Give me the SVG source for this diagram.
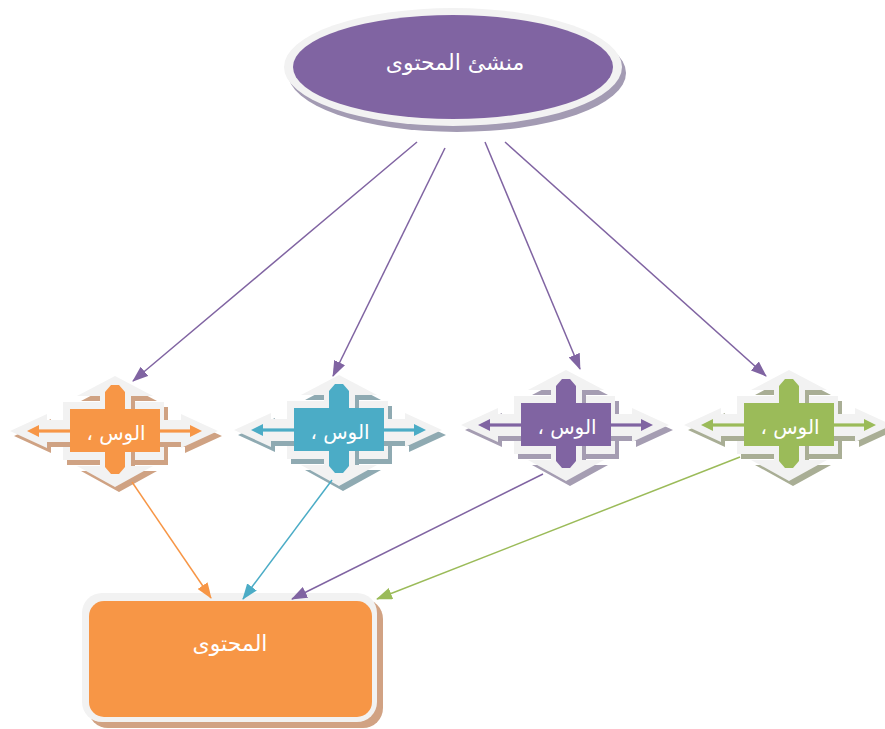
<svg xmlns="http://www.w3.org/2000/svg" xmlns:xlink="http://www.w3.org/1999/xlink" width="885" height="729" viewBox="0 0 885 729">
<style>
  .wh{fill:#f2f2f2}
  .txt{font-family:"DejaVu Sans","Noto Sans",sans-serif;fill:#ffffff;text-anchor:middle}
  .n1 .sh{fill:#cfa283}.n1 .c{fill:#f79646}
  .n2 .sh{fill:#8faab2}.n2 .c{fill:#4bacc6}
  .n3 .sh{fill:#a59db2}.n3 .c{fill:#8064a2}
  .n4 .sh{fill:#a9ae95}.n4 .c{fill:#9bbb59}
  .edge{fill:none;stroke-width:1.5}
</style>
<defs>
  <marker id="mP" markerUnits="userSpaceOnUse" markerWidth="16" markerHeight="12" refX="15" refY="6" orient="auto"><path d="M0,0 L16,6 L0,12 Z" fill="#8064a2"/></marker>
  <marker id="mO" markerUnits="userSpaceOnUse" markerWidth="16" markerHeight="12" refX="15" refY="6" orient="auto"><path d="M0,0 L16,6 L0,12 Z" fill="#f79646"/></marker>
  <marker id="mB" markerUnits="userSpaceOnUse" markerWidth="16" markerHeight="12" refX="15" refY="6" orient="auto"><path d="M0,0 L16,6 L0,12 Z" fill="#4bacc6"/></marker>
  <marker id="mG" markerUnits="userSpaceOnUse" markerWidth="16" markerHeight="12" refX="15" refY="6" orient="auto"><path d="M0,0 L16,6 L0,12 Z" fill="#9bbb59"/></marker>
  <rect id="box" x="-51" y="-29" width="101" height="58"/>
  <polygon id="hArr" points="-104,0 -67,-17 -67,-11 67,-11 67,-17 104,0 67,17 67,11 -67,11 -67,17"/>
  <polygon id="vArr" points="1,-55 39,-35 17,-35 17,35 39,35 1,56 -37,35 -14,35 -14,-35 -37,-35"/>
  <g id="core">
    <rect x="-80" y="-1.6" width="160" height="3.2"/>
    <polygon points="-87,0 -75,-6 -75,6"/>
    <polygon points="88,0 76,-6 76,6"/>
    <rect x="-44" y="-22" width="90" height="43"/>
    <path d="M-9,-39 L-3,-46 L5,-46 L11,-39 V36 L5,43 L-3,43 L-9,36 Z"/>
  </g>
</defs>

<!-- Source node -->
<g id="creator">
  <ellipse cx="457" cy="73" rx="169" ry="59" fill="#a39bb3"/>
  <ellipse cx="453" cy="67" rx="169" ry="59" class="wh"/>
  <ellipse cx="453" cy="67" rx="160" ry="52" fill="#8064a2"/>
  <text x="455" y="70" class="txt" font-size="22" direction="rtl">منشئ المحتوى</text>
</g>

<!-- Media nodes -->
<g id="media1" class="n1" transform="translate(114,431)">
  <use xlink:href="#box" class="sh" transform="translate(4,5)"/>
  <use xlink:href="#box" class="wh"/>
  <use xlink:href="#hArr" class="sh" transform="translate(4,5)"/>
  <use xlink:href="#hArr" class="wh"/>
  <use xlink:href="#vArr" class="sh" transform="translate(4,5)"/>
  <use xlink:href="#vArr" class="wh"/>
  <use xlink:href="#core" class="c"/>
  <text x="2" y="9" class="txt" font-size="20" direction="rtl">الوس ،</text>
</g>

<g id="media2" class="n2" transform="translate(338,430)">
  <use xlink:href="#box" class="sh" transform="translate(4,5)"/>
  <use xlink:href="#box" class="wh"/>
  <use xlink:href="#hArr" class="sh" transform="translate(4,5)"/>
  <use xlink:href="#hArr" class="wh"/>
  <use xlink:href="#vArr" class="sh" transform="translate(4,5)"/>
  <use xlink:href="#vArr" class="wh"/>
  <use xlink:href="#core" class="c"/>
  <text x="2" y="9" class="txt" font-size="20" direction="rtl">الوس ،</text>
</g>

<g id="media3" class="n3" transform="translate(565,425)">
  <use xlink:href="#box" class="sh" transform="translate(4,5)"/>
  <use xlink:href="#box" class="wh"/>
  <use xlink:href="#hArr" class="sh" transform="translate(4,5)"/>
  <use xlink:href="#hArr" class="wh"/>
  <use xlink:href="#vArr" class="sh" transform="translate(4,5)"/>
  <use xlink:href="#vArr" class="wh"/>
  <use xlink:href="#core" class="c"/>
  <text x="2" y="9" class="txt" font-size="20" direction="rtl">الوس ،</text>
</g>

<g id="media4" class="n4" transform="translate(788,425)">
  <use xlink:href="#box" class="sh" transform="translate(4,5)"/>
  <use xlink:href="#box" class="wh"/>
  <use xlink:href="#hArr" class="sh" transform="translate(4,5)"/>
  <use xlink:href="#hArr" class="wh"/>
  <use xlink:href="#vArr" class="sh" transform="translate(4,5)"/>
  <use xlink:href="#vArr" class="wh"/>
  <use xlink:href="#core" class="c"/>
  <text x="2" y="9" class="txt" font-size="20" direction="rtl">الوس ،</text>
</g>

<!-- Content node -->
<g id="content">
  <rect x="88" y="599" width="295" height="129" rx="20" fill="#d1a283"/>
  <rect x="82" y="593" width="295" height="129" rx="20" class="wh"/>
  <rect x="89" y="601" width="283" height="116" rx="15" fill="#f79646"/>
  <text x="230" y="651" class="txt" font-size="22" direction="rtl">المحتوى</text>
</g>

<!-- Connectors -->
<g id="connectors">
  <line class="edge" x1="417" y1="142" x2="133" y2="381" stroke="#8064a2" marker-end="url(#mP)"/>
  <line class="edge" x1="445" y1="148" x2="333" y2="376" stroke="#8064a2" marker-end="url(#mP)"/>
  <line class="edge" x1="485" y1="142" x2="580" y2="369" stroke="#8064a2" marker-end="url(#mP)"/>
  <line class="edge" x1="505" y1="142" x2="766" y2="376" stroke="#8064a2" marker-end="url(#mP)"/>
  <line class="edge" x1="132" y1="482" x2="211" y2="598" stroke="#f79646" marker-end="url(#mO)"/>
  <line class="edge" x1="332" y1="480" x2="243" y2="599" stroke="#4bacc6" marker-end="url(#mB)"/>
  <line class="edge" x1="543" y1="474" x2="292" y2="599" stroke="#8064a2" marker-end="url(#mP)"/>
  <line class="edge" x1="740" y1="457" x2="377" y2="599" stroke="#9bbb59" marker-end="url(#mG)"/>
</g>
</svg>
